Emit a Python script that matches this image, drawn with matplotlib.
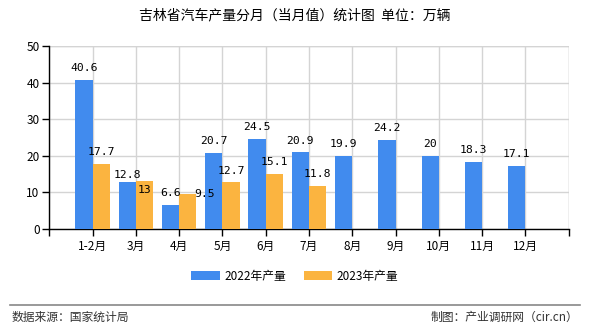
import matplotlib
matplotlib.use("Agg")
import matplotlib.pyplot as plt
from matplotlib.patches import Patch
from matplotlib.lines import Line2D

plt.rcParams['font.family'] = ['Noto Sans CJK SC', 'DejaVu Sans']

months = ["1-2月", "3月", "4月", "5月", "6月", "7月", "8月", "9月", "10月", "11月", "12月"]
prod_2022 = [40.6, 12.8, 6.6, 20.7, 24.5, 20.9, 19.9, 24.2, 20.0, 18.3, 17.1]
prod_2023 = [17.7, 13.0, 9.5, 12.7, 15.1, 11.8]
labels_2022 = ["40.6", "12.8", "6.6", "20.7", "24.5", "20.9", "19.9", "24.2", "20", "18.3", "17.1"]
labels_2023 = ["17.7", "13", "9.5", "12.7", "15.1", "11.8"]

BLUE = "#418BEE"
ORANGE = "#FBB440"
GRID = "#d4d4d4"

fig = plt.figure(figsize=(5.9, 3.3), dpi=100)
ax = fig.add_axes([0.0836, 0.306, 0.8804, 0.555])

w = 0.4
xs = list(range(1, len(months) + 1))
ax.bar([x - w / 2 for x in xs], prod_2022, width=w, color=BLUE, zorder=3)
ax.bar([x + w / 2 for x in xs[:len(prod_2023)]], prod_2023, width=w, color=ORANGE, zorder=3)

# label offsets (points) where labels would otherwise collide
off22 = {1: (0, 1.5)}
off23 = {1: (0, -10), 2: (12, -3.5)}

for i, (x, v, t) in enumerate(zip(xs, prod_2022, labels_2022)):
    dx, dy = off22.get(i, (0, 5))
    ax.annotate(t, (x - w / 2, v), xytext=(dx, dy), textcoords="offset points",
                ha="center", va="bottom", fontsize=8.2, family="DejaVu Sans Mono", zorder=5)
for i, (x, v, t) in enumerate(zip(xs, prod_2023, labels_2023)):
    dx, dy = off23.get(i, (0, 5))
    ax.annotate(t, (x + w / 2, v), xytext=(dx, dy), textcoords="offset points",
                ha="center", va="bottom", fontsize=8.2, family="DejaVu Sans Mono", zorder=5)

ax.set_xlim(0, 12)
ax.set_ylim(0, 50)
ax.set_xticks(range(13))
ax.set_xticklabels([""] + months + [""], fontsize=8.5)
ax.set_yticks(range(0, 51, 10))
ax.tick_params(axis="y", labelsize=8.5, length=5, width=1, color="black", pad=2)
ax.tick_params(axis="x", length=5, width=1, color="black", pad=3)
ax.grid(True, color=GRID, linewidth=1, zorder=0)
for s in ("top", "right"):
    ax.spines[s].set_visible(False)
for s in ("left", "bottom"):
    ax.spines[s].set_color("black")
    ax.spines[s].set_linewidth(1)
ax.axhline(50, color=GRID, linewidth=1, zorder=0)
ax.axvline(12, color=GRID, linewidth=1, zorder=0)

fig.text(0.5, 0.953, "吉林省汽车产量分月（当月值）统计图  单位：万辆", ha="center", va="center", fontsize=10)

handles = [Patch(facecolor=BLUE, label="2022年产量"), Patch(facecolor=ORANGE, label="2023年产量")]
fig.legend(handles=handles, loc="center", bbox_to_anchor=(0.5, 0.162), ncol=2, frameon=False,
           fontsize=8.5, handlelength=2.4, handleheight=0.8, columnspacing=1.5, handletextpad=0.4)

fig.add_artist(Line2D([0.017, 0.983], [0.076, 0.076], color="#888888", linewidth=1.2,
                      transform=fig.transFigure))
fig.text(0.02, 0.038, "数据来源：国家统计局", ha="left", va="center", fontsize=8.5, color="#333333")
fig.text(0.98, 0.038, "制图：产业调研网（cir.cn）", ha="right", va="center", fontsize=8.5, color="#333333")

fig.savefig("out.png", dpi=100)
